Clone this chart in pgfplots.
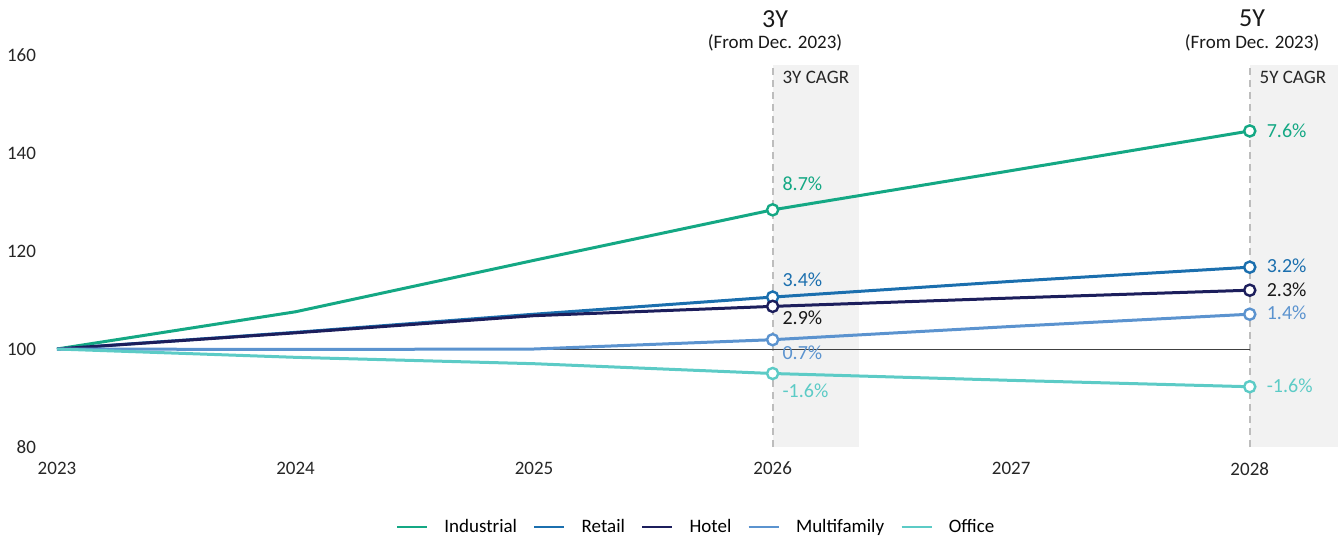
\documentclass[border=0pt]{standalone}
\usepackage{fontspec}
\setmainfont{Carlito}
\usepackage{pgfplots}
\pgfplotsset{compat=1.18}

\definecolor{cInd}{HTML}{14A884}
\definecolor{cRet}{HTML}{1B6FAE}
\definecolor{cHot}{HTML}{1C1E5C}
\definecolor{cMul}{HTML}{5B93CF}
\definecolor{cOff}{HTML}{5CCBC6}
\definecolor{cShade}{HTML}{F2F2F2}
\definecolor{cDash}{HTML}{BDBDBD}

\begin{document}
\begin{tikzpicture}
\begin{axis}[
  scale only axis,
  width=640.5pt, height=196pt,
  xmin=2023, xmax=2028.37,
  ymin=80, ymax=160,
  xtick={2023,2024,2025,2026,2027,2028},
  ytick={80,100,120,140,160},
  axis line style={draw=none},
  tick style={draw=none},
  clip=false,
  /pgf/number format/assume math mode=true,
  /pgf/number format/1000 sep={},
  tick label style={font=\fontsize{9.5}{11}\selectfont, text=black!85},
  xticklabel style={yshift=-4pt},
  yticklabel style={xshift=-7pt},
  legend style={at={(0.4996,-0.204)}, anchor=center, draw=none,
    font=\fontsize{9.5}{11}\selectfont, column sep=6pt},
  legend columns=5,
  legend image code/.code={\draw[#1, line width=1.3pt] (0pt,0pt) -- (15pt,0pt);},
]
% background bands and dashed guides
\addplot[draw=none, fill=cShade, forget plot] coordinates {(2026,80) (2026,158) (2026.36,158) (2026.36,80)} -- cycle;
\addplot[draw=none, fill=cShade, forget plot] coordinates {(2028,80) (2028,158) (2028.37,158) (2028.37,80)} -- cycle;
\addplot[cDash, line width=1pt, dash pattern=on 3.5pt off 2.5pt, forget plot] coordinates {(2026,80) (2026,158)};
\addplot[cDash, line width=1pt, dash pattern=on 3.5pt off 2.5pt, forget plot] coordinates {(2028,80) (2028,158)};
\addplot[black!75, line width=0.5pt, forget plot] coordinates {(2023,100) (2028,100)};

% series
\addplot[cInd, line width=1.5pt] coordinates {(2023,100) (2024,107.6) (2025,118.1) (2026,128.4) (2027,136.4) (2028,144.5)};
\addlegendentry{Industrial}
\addplot[cRet, line width=1.5pt] coordinates {(2023,100) (2024,103.4) (2025,107.1) (2026,110.6) (2027,113.8) (2028,116.7)};
\addlegendentry{Retail}
\addplot[cHot, line width=1.5pt] coordinates {(2023,100) (2024,103.3) (2025,106.8) (2026,108.7) (2027,110.4) (2028,112.0)};
\addlegendentry{Hotel}
\addplot[cMul, line width=1.5pt] coordinates {(2023,100) (2024,99.9) (2025,100.0) (2026,101.9) (2027,104.6) (2028,107.1)};
\addlegendentry{Multifamily}
\addplot[cOff, line width=1.5pt] coordinates {(2023,100) (2024,98.3) (2025,97.0) (2026,95.0) (2027,93.6) (2028,92.3)};
\addlegendentry{Office}

% markers
\pgfplotsset{every mark/.append style={solid}}
\addplot[only marks, mark=*, mark size=2.8pt, mark options={draw=cInd, fill=white, line width=1.2pt}, forget plot] coordinates {(2026,128.4) (2028,144.5)};
\addplot[only marks, mark=*, mark size=2.8pt, mark options={draw=cRet, fill=white, line width=1.2pt}, forget plot] coordinates {(2026,110.6) (2028,116.7)};
\addplot[only marks, mark=*, mark size=2.8pt, mark options={draw=cHot, fill=white, line width=1.2pt}, forget plot] coordinates {(2026,108.7) (2028,112.0)};
\addplot[only marks, mark=*, mark size=2.8pt, mark options={draw=cMul, fill=white, line width=1.2pt}, forget plot] coordinates {(2026,101.9) (2028,107.1)};
\addplot[only marks, mark=*, mark size=2.8pt, mark options={draw=cOff, fill=white, line width=1.2pt}, forget plot] coordinates {(2026,95.0) (2028,92.3)};

% value labels
\begin{scope}[every node/.style={font=\fontsize{10}{12}\selectfont, anchor=west, inner sep=0pt}]
\node[text=cInd] at (axis cs:2026.04,133.7) {8.7\%};
\node[text=cRet] at (axis cs:2026.04,114.1) {3.4\%};
\node[text=black!90] at (axis cs:2026.04,106.3) {2.9\%};
\node[text=cMul] at (axis cs:2026.04,99.2) {0.7\%};
\node[text=cOff] at (axis cs:2026.04,91.4) {-1.6\%};
\node[text=cInd] at (axis cs:2028.07,144.6) {7.6\%};
\node[text=cRet] at (axis cs:2028.07,117.0) {3.2\%};
\node[text=black!90] at (axis cs:2028.07,112.1) {2.3\%};
\node[text=cMul] at (axis cs:2028.07,107.3) {1.4\%};
\node[text=cOff] at (axis cs:2028.07,92.6) {-1.6\%};
\node[text=black!85, font=\fontsize{9.5}{11}\selectfont] at (axis cs:2026.04,155.4) {3Y CAGR};
\node[text=black!85, font=\fontsize{9.5}{11}\selectfont] at (axis cs:2028.04,155.4) {5Y CAGR};
\end{scope}
\node[font=\fontsize{13}{15}\selectfont, text=black!90] at (axis cs:2026.01,167.4) {3Y};
\node[font=\fontsize{9.5}{11}\selectfont, text=black!90] at (axis cs:2026.01,162.4) {(From Dec. 2023)};
\node[font=\fontsize{13}{15}\selectfont, text=black!90] at (axis cs:2028.01,167.4) {5Y};
\node[font=\fontsize{9.5}{11}\selectfont, text=black!90] at (axis cs:2028.01,162.4) {(From Dec. 2023)};
\end{axis}
\pgfresetboundingbox
\path (-28.5pt,-47.5pt) rectangle (643.5pt,223.5pt);
\end{tikzpicture}
\end{document}
